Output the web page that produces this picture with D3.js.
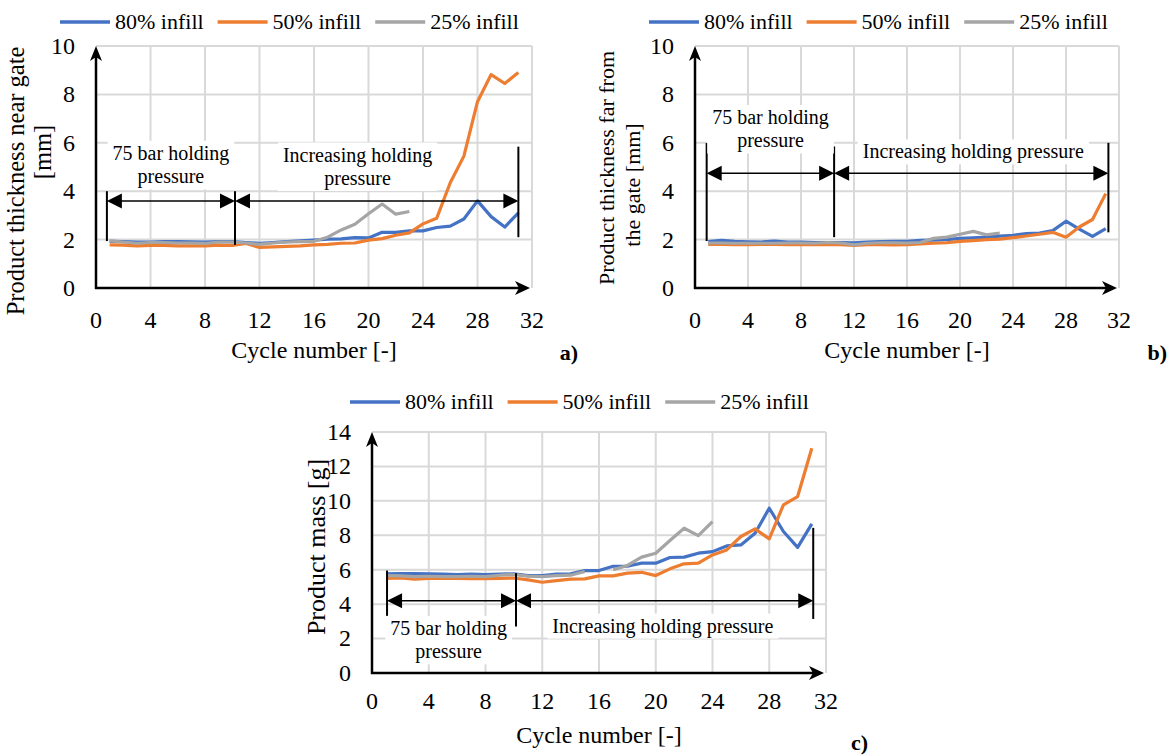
<!DOCTYPE html>
<html>

<head>
  <title>Holding pressure</title>
  <style type="text/css">
    body {
      margin: 0;
      background: #fff;
    }

    svg text {
      font-family: "Liberation Serif", "Times New Roman", serif;
      fill: #000;
    }
  </style>
</head>

<body>
  <svg id="fig" width="1169" height="755"></svg>
  <script type="text/javascript" src="https://cdn.jsdelivr.net/npm/d3@7"></script>
  <script type="text/javascript">
    var cycles = [1, 2, 3, 4, 5, 6, 7, 8, 9, 10, 11, 12, 13, 14, 15, 16, 17, 18, 19, 20, 21, 22, 23, 24, 25, 26, 27, 28, 29, 30, 31];
    var seriesNames = ["80% infill", "50% infill", "25% infill"];
    var xTicks = [0, 4, 8, 12, 16, 20, 24, 28, 32];

    // a) thickness near gate [mm]
    var nearGate80 = [1.93, 1.92, 1.9, 1.9, 1.92, 1.92, 1.91, 1.9, 1.92, 1.92, 1.88, 1.85, 1.88, 1.92, 1.95, 1.98, 2.02, 2.03, 2.08, 2.07, 2.3, 2.3, 2.36, 2.36, 2.5, 2.56, 2.85, 3.6, 2.95, 2.52, 3.1];
    var nearGate50 = [1.78, 1.77, 1.74, 1.76, 1.76, 1.74, 1.74, 1.74, 1.77, 1.76, 1.84, 1.68, 1.7, 1.72, 1.74, 1.78, 1.8, 1.85, 1.86, 1.98, 2.04, 2.18, 2.28, 2.65, 2.88, 4.35, 5.45, 7.7, 8.82, 8.45, 8.9];
    var nearGate25 = [1.95, 1.9, 1.85, 1.88, 1.88, 1.86, 1.86, 1.84, 1.9, 1.9, 1.86, 1.8, 1.86, 1.9, 1.92, 1.93, 2.1, 2.4, 2.63, 3.07, 3.47, 3.05, 3.16, null, null, null, null, null, null, null, null];

    // b) thickness far from the gate [mm]
    var farGate80 = [1.92, 1.97, 1.93, 1.91, 1.9, 1.94, 1.9, 1.9, 1.88, 1.88, 1.88, 1.87, 1.9, 1.92, 1.93, 1.93, 1.97, 1.98, 2.0, 2.05, 2.07, 2.1, 2.14, 2.18, 2.25, 2.27, 2.37, 2.76, 2.43, 2.13, 2.45];
    var farGate50 = [1.8, 1.8, 1.79, 1.79, 1.8, 1.8, 1.79, 1.79, 1.8, 1.79, 1.79, 1.76, 1.79, 1.79, 1.78, 1.79, 1.82, 1.85, 1.87, 1.93, 1.96, 2.0, 2.02, 2.08, 2.15, 2.22, 2.3, 2.1, 2.52, 2.83, 3.9];
    var farGate25 = [1.86, 1.86, 1.85, 1.85, 1.85, 1.85, 1.86, 1.86, 1.85, 1.88, 1.86, 1.78, 1.85, 1.87, 1.87, 1.86, 1.88, 2.05, 2.1, 2.22, 2.34, 2.2, 2.27, null, null, null, null, null, null, null, null];

    // c) product mass [g]
    var mass80 = [5.76, 5.78, 5.77, 5.76, 5.75, 5.72, 5.74, 5.72, 5.74, 5.76, 5.66, 5.66, 5.74, 5.76, 5.95, 5.95, 6.2, 6.2, 6.38, 6.38, 6.71, 6.73, 6.96, 7.05, 7.38, 7.44, 8.12, 9.57, 8.22, 7.3, 8.66];
    var mass50 = [5.5, 5.52, 5.45, 5.5, 5.5, 5.5, 5.48, 5.48, 5.5, 5.52, 5.41, 5.27, 5.37, 5.45, 5.47, 5.64, 5.64, 5.8, 5.85, 5.66, 6.05, 6.34, 6.38, 6.86, 7.15, 7.93, 8.37, 7.79, 9.77, 10.25, 13.06];
    var mass25 = [5.66, 5.64, 5.6, 5.62, 5.6, 5.6, 5.62, 5.6, 5.68, 5.72, 5.63, 5.6, 5.66, 5.68, 5.9, null, 6.0, 6.25, 6.73, 6.96, 7.7, 8.41, 7.98, 8.79, null, null, null, null, null, null, null];

    var colors = ["#4472c4", "#ed7d31", "#a5a5a5"];

    var svg = d3.select("#fig");

    var panels = [
      {
        left: 96, right: 532, bottom: 288, top: 46, yMax: 10,
        series: [nearGate80, nearGate50, nearGate25],
        legendX: 60, legendY: 22,
        ylab: ["Product thickness near gate", "[mm]"], ylabSize: 24.5,
        ylabPos: [[16, 181], [43, 152]],
        tag: "a)", tagX: 578, tagY: 360,
        marks: [0.8, 10.2, 31], markLo: [1.94, 1.78, 2.1], markHi: [4.0, 4.0, 5.84], arrowY: 3.6,
        notes: [
          { x: 5.5, y: 5.57, lines: ["75 bar holding", "pressure"] },
          { x: 19.2, y: 5.5, lines: ["Increasing holding", "pressure"] }
        ]
      },
      {
        left: 695, right: 1119, bottom: 288, top: 46, yMax: 10,
        series: [farGate80, farGate50, farGate25],
        legendX: 649, legendY: 22,
        ylab: ["Product thickness far from", "the gate  [mm]"], ylabSize: 22,
        ylabPos: [[607, 168], [633, 185]],
        tag: "b)", tagX: 1167, tagY: 360,
        marks: [0.88, 10.5, 31.2], markLo: [1.94, 2.1, 2.3], markHi: [5.99, 5.85, 6.0], arrowY: 4.74,
        notes: [
          { x: 5.7, y: 7.05, lines: ["75 bar holding", "pressure"] },
          { x: 21, y: 5.63, lines: ["Increasing holding pressure"] }
        ]
      },
      {
        left: 372, right: 826, bottom: 673, top: 432, yMax: 14,
        series: [mass80, mass50, mass25],
        legendX: 350, legendY: 402,
        ylab: ["Product mass [g]"], ylabSize: 26,
        ylabPos: [[317, 547]],
        tag: "c)", tagX: 868, tagY: 750,
        marks: [1.06, 10.15, 31.1], markLo: [2.9, 2.7, 3.14], markHi: [5.95, 5.8, 8.43], arrowY: 4.2,
        notes: [
          { x: 5.4, y: 2.6, lines: ["75 bar holding", "pressure"] },
          { x: 20.5, y: 2.73, lines: ["Increasing holding pressure"] }
        ]
      }
    ];

    panels.forEach(drawPanel);

    function drawPanel(p) {
      var x = d3.scaleLinear().domain([0, 32]).range([p.left, p.right]);
      var y = d3.scaleLinear().domain([0, p.yMax]).range([p.bottom, p.top]);
      var yTicks = d3.range(0, p.yMax + 1, 2);
      var g = svg.append("g");

      // grid
      g.selectAll(".vg").data(xTicks.slice(1)).enter().append("line")
        .attr("x1", x).attr("x2", x)
        .attr("y1", p.bottom).attr("y2", p.top)
        .attr("stroke", "#d9d9d9").attr("stroke-width", 2);
      g.selectAll(".hg").data(yTicks.slice(1)).enter().append("line")
        .attr("x1", p.left).attr("x2", p.right)
        .attr("y1", y).attr("y2", y)
        .attr("stroke", "#d9d9d9").attr("stroke-width", 2);

      // tick labels
      g.selectAll(".xt").data(xTicks).enter().append("text")
        .attr("x", x).attr("y", p.bottom + (p.yMax > 10 ? 36 : 40))
        .attr("text-anchor", "middle").attr("font-size", 24)
        .text(function (d) { return d; });
      g.selectAll(".yt").data(yTicks).enter().append("text")
        .attr("x", p.left - 21).attr("y", y)
        .attr("dy", "0.33em")
        .attr("text-anchor", "end").attr("font-size", 24)
        .text(function (d) { return d; });

      // axes with arrow heads
      g.append("line").attr("x1", p.left).attr("x2", p.left)
        .attr("y1", p.bottom + 1).attr("y2", p.top + 8)
        .attr("stroke", "#000").attr("stroke-width", 2.5);
      g.append("path")
        .attr("d", "M" + p.left + "," + (p.top + 0) + "l-6,15l6,-4l6,4z")
        .attr("fill", "#000");
      g.append("line").attr("x1", p.left - 1).attr("x2", p.right - 6)
        .attr("y1", p.bottom).attr("y2", p.bottom)
        .attr("stroke", "#000").attr("stroke-width", 2.5);
      g.append("path")
        .attr("d", "M" + (p.right - 2) + "," + p.bottom + "l-15,-7l4,7l-4,7z")
        .attr("fill", "#000");

      // axis titles
      g.append("text")
        .attr("x", (p.left + p.right) / 2).attr("y", p.bottom + 70)
        .attr("text-anchor", "middle").attr("font-size", 24)
        .text("Cycle number [-]");
      p.ylab.forEach(function (t, i) {
        g.append("text")
          .attr("transform", "translate(" + p.ylabPos[i][0] + "," + p.ylabPos[i][1] + ") rotate(-90)")
          .attr("text-anchor", "middle").attr("dy", "0.32em")
          .attr("font-size", p.ylabSize)
          .text(t);
      });

      // series
      var line = d3.line()
        .defined(function (d) { return d != null; })
        .x(function (d, i) { return x(cycles[i]); })
        .y(function (d) { return y(d); });
      p.series.forEach(function (s, k) {
        g.append("path").datum(s)
          .attr("d", line)
          .attr("fill", "none")
          .attr("stroke", colors[k]).attr("stroke-width", 3.2)
          .attr("stroke-linejoin", "round");
      });

      // phase markers
      p.marks.forEach(function (m, i) {
        g.append("line")
          .attr("x1", x(m)).attr("x2", x(m))
          .attr("y1", y(p.markLo[i])).attr("y2", y(p.markHi[i]))
          .attr("stroke", "#000").attr("stroke-width", 2);
      });
      var ay = y(p.arrowY);
      for (var i = 0; i < 2; i++) {
        var xa = x(p.marks[i]), xb = x(p.marks[i + 1]);
        g.append("line").attr("x1", xa + 10).attr("x2", xb - 10)
          .attr("y1", ay).attr("y2", ay)
          .attr("stroke", "#000").attr("stroke-width", 1.5);
        g.append("path").attr("d", "M" + xa + "," + ay + "l15,-7.5v15z").attr("fill", "#000");
        g.append("path").attr("d", "M" + xb + "," + ay + "l-15,-7.5v15z").attr("fill", "#000");
      }

      // notes with white boxes
      p.notes.forEach(function (n) {
        var ng = g.append("g");
        var box = ng.append("rect").attr("fill", "#fff");
        var txt = ng.append("text")
          .attr("text-anchor", "middle").attr("font-size", 20);
        n.lines.forEach(function (t, j) {
          txt.append("tspan")
            .attr("x", x(n.x)).attr("y", y(n.y) + j * 23.5)
            .attr("dy", "0.33em")
            .text(t);
        });
        var bb = txt.node().getBBox();
        box.attr("x", bb.x - 5).attr("y", bb.y - 1)
          .attr("width", bb.width + 10).attr("height", bb.height + 2);
      });

      // legend
      var lx = p.legendX;
      seriesNames.forEach(function (name, k) {
        g.append("line").attr("x1", lx).attr("x2", lx + 50)
          .attr("y1", p.legendY).attr("y2", p.legendY)
          .attr("stroke", colors[k]).attr("stroke-width", 3.5);
        var t = g.append("text").attr("x", lx + 55).attr("y", p.legendY)
          .attr("dy", "0.33em").attr("font-size", 22).text(name);
        lx += 55 + t.node().getComputedTextLength() + 14;
      });

      // panel tag
      g.append("text").attr("x", p.tagX).attr("y", p.tagY)
        .attr("text-anchor", "end").attr("font-size", 22)
        .attr("font-weight", "bold").text(p.tag);
    }
  </script>
</body>

</html>
